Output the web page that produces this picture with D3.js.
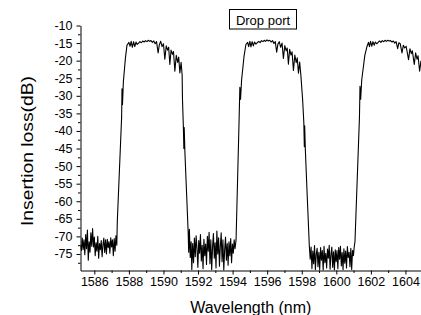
<!DOCTYPE html>
<html>
<head>
<meta charset="utf-8">
<script src="https://cdn.jsdelivr.net/npm/d3@7/dist/d3.min.js"></script>
<style>
  html, body { margin: 0; padding: 0; background: #fff; }
  svg { display: block; font-family: "Liberation Sans", Arial, sans-serif; }
</style>
</head>
<body>
<svg id="chart" width="421" height="315"></svg>
<script>
// ---- data ----
const wavelength = [
  1585.20,1585.25,1585.30,1585.35,1585.40,1585.45,1585.50,1585.55,1585.60,1585.65,1585.70,1585.75,1585.80,1585.85,1585.90,1585.95,
  1586.00,1586.05,1586.10,1586.15,1586.20,1586.25,1586.30,1586.35,1586.40,1586.45,1586.50,1586.55,1586.60,1586.65,1586.70,1586.75,
  1586.80,1586.85,1586.90,1586.95,1587.00,1587.05,1587.10,1587.15,1587.20,1587.25,1587.30,1587.33,
  1587.58,1587.60,1587.63,1587.68,1587.80,1587.89,
  1588.00,1588.07,1588.13,1588.20,1588.27,1588.34,1588.41,1588.48,1588.56,1588.64,1588.72,1588.80,1588.88,1588.96,1589.04,1589.12,
  1589.20,1589.28,1589.36,1589.44,1589.52,1589.60,1589.69,1589.76,1589.84,1589.92,1590.00,1590.08,1590.16,1590.24,1590.30,1590.37,
  1590.44,1590.52,1590.58,1590.66,1590.74,1590.82,1590.88,1590.95,1591.02,1591.08,
  1591.10,1591.15,1591.18,1591.20,1591.24,1591.34,1591.43,
  1591.46,1591.50,1591.55,1591.60,1591.64,1591.69,1591.74,1591.79,1591.84,1591.89,1591.94,1591.99,1592.04,1592.09,1592.14,1592.19,
  1592.24,1592.29,1592.34,1592.39,1592.44,1592.49,1592.54,1592.59,1592.64,1592.69,1592.74,1592.79,1592.84,1592.89,1592.94,1592.99,
  1593.04,1593.09,1593.14,1593.19,1593.24,1593.29,1593.34,1593.39,1593.44,1593.49,1593.54,1593.59,1593.64,1593.69,1593.74,1593.79,
  1593.84,1593.89,1593.94,1593.99,1594.04,1594.09,1594.14,
  1594.20,1594.38,1594.42,1594.46,1594.52,1594.66,1594.77,
  1594.87,1594.93,1595.00,1595.06,1595.13,1595.20,1595.27,1595.35,1595.43,1595.51,1595.59,1595.67,1595.75,1595.83,1595.91,1595.99,
  1596.07,1596.15,1596.23,1596.31,1596.39,1596.47,1596.55,1596.62,1596.70,1596.78,1596.86,1596.94,1597.02,1597.10,1597.16,1597.23,
  1597.30,1597.38,1597.44,1597.52,1597.60,1597.68,1597.74,1597.81,1597.88,1597.95,
  1598.05,1598.12,1598.15,1598.17,1598.21,1598.33,1598.44,
  1598.49,1598.54,1598.59,1598.64,1598.69,1598.74,1598.79,1598.84,1598.89,1598.94,1598.99,1599.04,1599.09,1599.14,1599.19,1599.24,
  1599.29,1599.34,1599.39,1599.44,1599.49,1599.54,1599.59,1599.64,1599.69,1599.74,1599.79,1599.84,1599.89,1599.94,1599.99,1600.04,
  1600.09,1600.14,1600.19,1600.24,1600.29,1600.34,1600.39,1600.44,1600.49,1600.54,1600.59,1600.64,1600.69,1600.74,1600.79,1600.84,
  1600.89,1600.94,1600.99,1601.04,1601.08,
  1601.34,1601.37,1601.41,1601.47,1601.65,1601.78,
  1601.86,1601.92,1601.98,1602.05,1602.12,1602.19,1602.26,1602.34,1602.42,1602.50,1602.58,1602.66,1602.74,1602.82,1602.90,1602.98,
  1603.06,1603.14,1603.22,1603.30,1603.38,1603.46,1603.55,1603.62,1603.70,1603.80,1603.88,1603.96,1604.04,1604.18,1604.26,1604.34,
  1604.40,1604.51,1604.59,1604.67,1604.73,1604.82,1604.90
];
const loss = [
  -72.5,-74.0,-70.5,-73.8,-71.0,-75.2,-69.5,-73.5,-68.2,-76.8,-71.5,-74.5,-69.0,-72.8,-67.8,-73.0,
  -70.2,-75.5,-71.8,-74.2,-70.0,-76.2,-72.0,-73.8,-71.2,-75.8,-72.4,-70.5,-74.6,-71.0,-75.0,-70.8,
  -73.2,-71.5,-74.8,-70.4,-73.0,-71.0,-75.5,-70.6,-74.2,-69.8,-72.5,-65.7,
  -36.0,-28.0,-32.5,-26.0,-19.2,-15.6,
  -14.8,-15.9,-14.5,-16.2,-14.6,-16.0,-14.7,-15.4,-15.0,-14.6,-14.9,-14.4,-14.7,-14.3,-14.6,-14.2,
  -14.5,-14.3,-14.8,-14.4,-15.2,-14.6,-17.8,-15.5,-14.5,-16.0,-15.2,-19.6,-15.8,-17.0,-16.2,-21.1,
  -17.0,-18.2,-17.4,-23.0,-18.5,-20.5,-19.0,-23.5,-20.5,-24.0,
  -31.0,-38.5,-45.0,-39.0,-46.0,-58.0,-69.0,
  -74.5,-68.0,-76.0,-71.5,-79.5,-72.0,-77.5,-70.5,-75.8,-69.8,-73.5,-78.8,-71.2,-74.8,-69.5,-77.0,
  -72.5,-79.2,-70.8,-75.5,-72.2,-78.0,-70.0,-74.2,-68.8,-77.8,-71.0,-79.5,-73.0,-69.2,-76.2,-71.8,
  -79.0,-68.5,-75.0,-70.4,-78.5,-72.8,-69.0,-77.2,-71.0,-79.6,-73.8,-70.2,-76.8,-72.0,-78.2,-71.5,
  -75.5,-70.6,-77.5,-72.2,-74.8,-71.0,-73.5,
  -71.0,-36.0,-27.6,-31.0,-25.5,-18.8,-15.4,
  -14.8,-16.0,-14.5,-16.1,-14.6,-15.8,-14.7,-15.3,-14.9,-14.5,-14.9,-14.3,-14.6,-14.2,-14.5,-14.1,
  -14.4,-14.2,-14.7,-14.3,-15.1,-14.6,-17.6,-15.3,-14.6,-16.2,-15.0,-19.4,-15.7,-17.2,-16.4,-21.0,
  -16.8,-18.4,-17.5,-22.8,-18.4,-20.6,-19.2,-23.6,-20.4,-24.2,
  -31.0,-37.5,-44.5,-38.5,-45.5,-60.0,-72.8,
  -76.5,-73.0,-79.2,-74.2,-77.8,-72.6,-79.5,-75.0,-73.4,-78.6,-74.5,-79.4,-73.2,-76.8,-74.0,-79.6,
  -72.8,-77.5,-74.8,-79.0,-73.6,-76.2,-72.5,-79.3,-75.2,-73.0,-78.8,-74.4,-79.6,-73.8,-77.2,-74.0,
  -79.2,-73.2,-76.5,-72.8,-78.4,-74.6,-79.5,-73.5,-77.6,-74.2,-79.0,-72.9,-76.0,-74.5,-78.6,-73.4,
  -79.4,-74.0,-75.5,-72.8,-71.5,
  -36.0,-27.3,-31.0,-25.5,-18.5,-15.9,
  -14.8,-16.0,-14.5,-15.9,-14.6,-15.6,-14.7,-15.2,-14.8,-14.4,-14.8,-14.3,-14.6,-14.2,-14.5,-14.2,
  -14.4,-14.3,-14.7,-14.4,-15.0,-14.6,-16.6,-14.9,-15.2,-17.8,-15.6,-16.4,-15.9,-19.7,-16.6,-18.0,
  -17.2,-21.1,-17.8,-19.6,-18.6,-23.0,-20.0
];
const xMajorTicks = [1586, 1588, 1590, 1592, 1594, 1596, 1598, 1600, 1602, 1604];
const xMinorTicks = [1587, 1589, 1591, 1593, 1595, 1597, 1599, 1601, 1603];
const yMajorTicks = [-75, -70, -65, -60, -55, -50, -45, -40, -35, -30, -25, -20, -15, -10];
const yMinorTicks = [-77.5, -72.5, -67.5, -62.5, -57.5, -52.5, -47.5, -42.5, -37.5, -32.5, -27.5, -22.5, -17.5, -12.5];
const xDomain = [1585.2, 1604.9];
const yDomain = [-79.7, -10];
const xTitle = "Wavelength (nm)";
const yTitle = "Insertion loss(dB)";
const legendLabel = "Drop port";

// ---- layout ----
const plot = { left: 80.5, right: 421, top: 25.5, bottom: 270.5 };
const svg = d3.select("#chart");

const x = d3.scaleLinear().domain(xDomain).range([plot.left, plot.right]);
const y = d3.scaleLinear().domain(yDomain).range([plot.bottom, plot.top]);

svg.append("defs").append("clipPath").attr("id", "clip")
  .append("rect")
  .attr("x", plot.left).attr("y", plot.top)
  .attr("width", plot.right - plot.left).attr("height", plot.bottom - plot.top);

// line
const pts = wavelength.map((w, i) => [w, loss[i]]);
svg.append("path")
  .datum(pts)
  .attr("clip-path", "url(#clip)")
  .attr("fill", "none")
  .attr("stroke", "#000")
  .attr("stroke-width", 1.1)
  .attr("stroke-linejoin", "round")
  .attr("d", d3.line().x(d => x(d[0])).y(d => y(d[1])));

// axes
function styleAxis(g) {
  g.selectAll("path.domain").attr("stroke", "#000").attr("stroke-width", 1);
  g.selectAll(".tick line").attr("stroke", "#000").attr("stroke-width", 1);
  g.selectAll(".tick text").attr("fill", "#000")
    .style("font-family", '"Liberation Sans", Arial, sans-serif').style("font-size", "12.5px");
}

const gx = svg.append("g").attr("transform", `translate(0,${plot.bottom})`)
  .call(d3.axisBottom(x).tickValues(xMajorTicks).tickFormat(d3.format("d"))
    .tickSize(4).tickSizeOuter(0).tickPadding(3));
styleAxis(gx);
const gxm = svg.append("g").attr("transform", `translate(0,${plot.bottom})`)
  .call(d3.axisBottom(x).tickValues(xMinorTicks).tickFormat("").tickSize(2.5).tickSizeOuter(0));
styleAxis(gxm);
gxm.select("path.domain").remove();

const gy = svg.append("g").attr("transform", `translate(${plot.left},0)`)
  .call(d3.axisLeft(y).tickValues(yMajorTicks).tickFormat(d => d3.format("d")(d).replace("\u2212", "-"))
    .tickSize(4).tickSizeOuter(0).tickPadding(4));
styleAxis(gy);
const gym = svg.append("g").attr("transform", `translate(${plot.left},0)`)
  .call(d3.axisLeft(y).tickValues(yMinorTicks).tickFormat("").tickSize(2.5).tickSizeOuter(0));
styleAxis(gym);
gym.select("path.domain").remove();

// titles
svg.append("text")
  .attr("x", (plot.left + plot.right) / 2).attr("y", 313)
  .attr("text-anchor", "middle")
  .style("font-size", "16px").attr("fill", "#000")
  .text(xTitle);

svg.append("text")
  .attr("transform", `translate(33,151) rotate(-90)`)
  .attr("text-anchor", "middle")
  .attr("textLength", 150)
  .attr("lengthAdjust", "spacingAndGlyphs")
  .style("font-size", "16px").attr("fill", "#000")
  .text(yTitle);

// legend box
const lg = svg.append("g");
lg.append("rect")
  .attr("x", 229.5).attr("y", 9.5).attr("width", 67).attr("height", 19.5)
  .attr("fill", "#fff").attr("stroke", "#000").attr("stroke-width", 1);
lg.append("text")
  .attr("x", 263).attr("y", 24.5).attr("text-anchor", "middle")
  .style("font-size", "13px").attr("fill", "#000")
  .text(legendLabel);
</script>
</body>
</html>
